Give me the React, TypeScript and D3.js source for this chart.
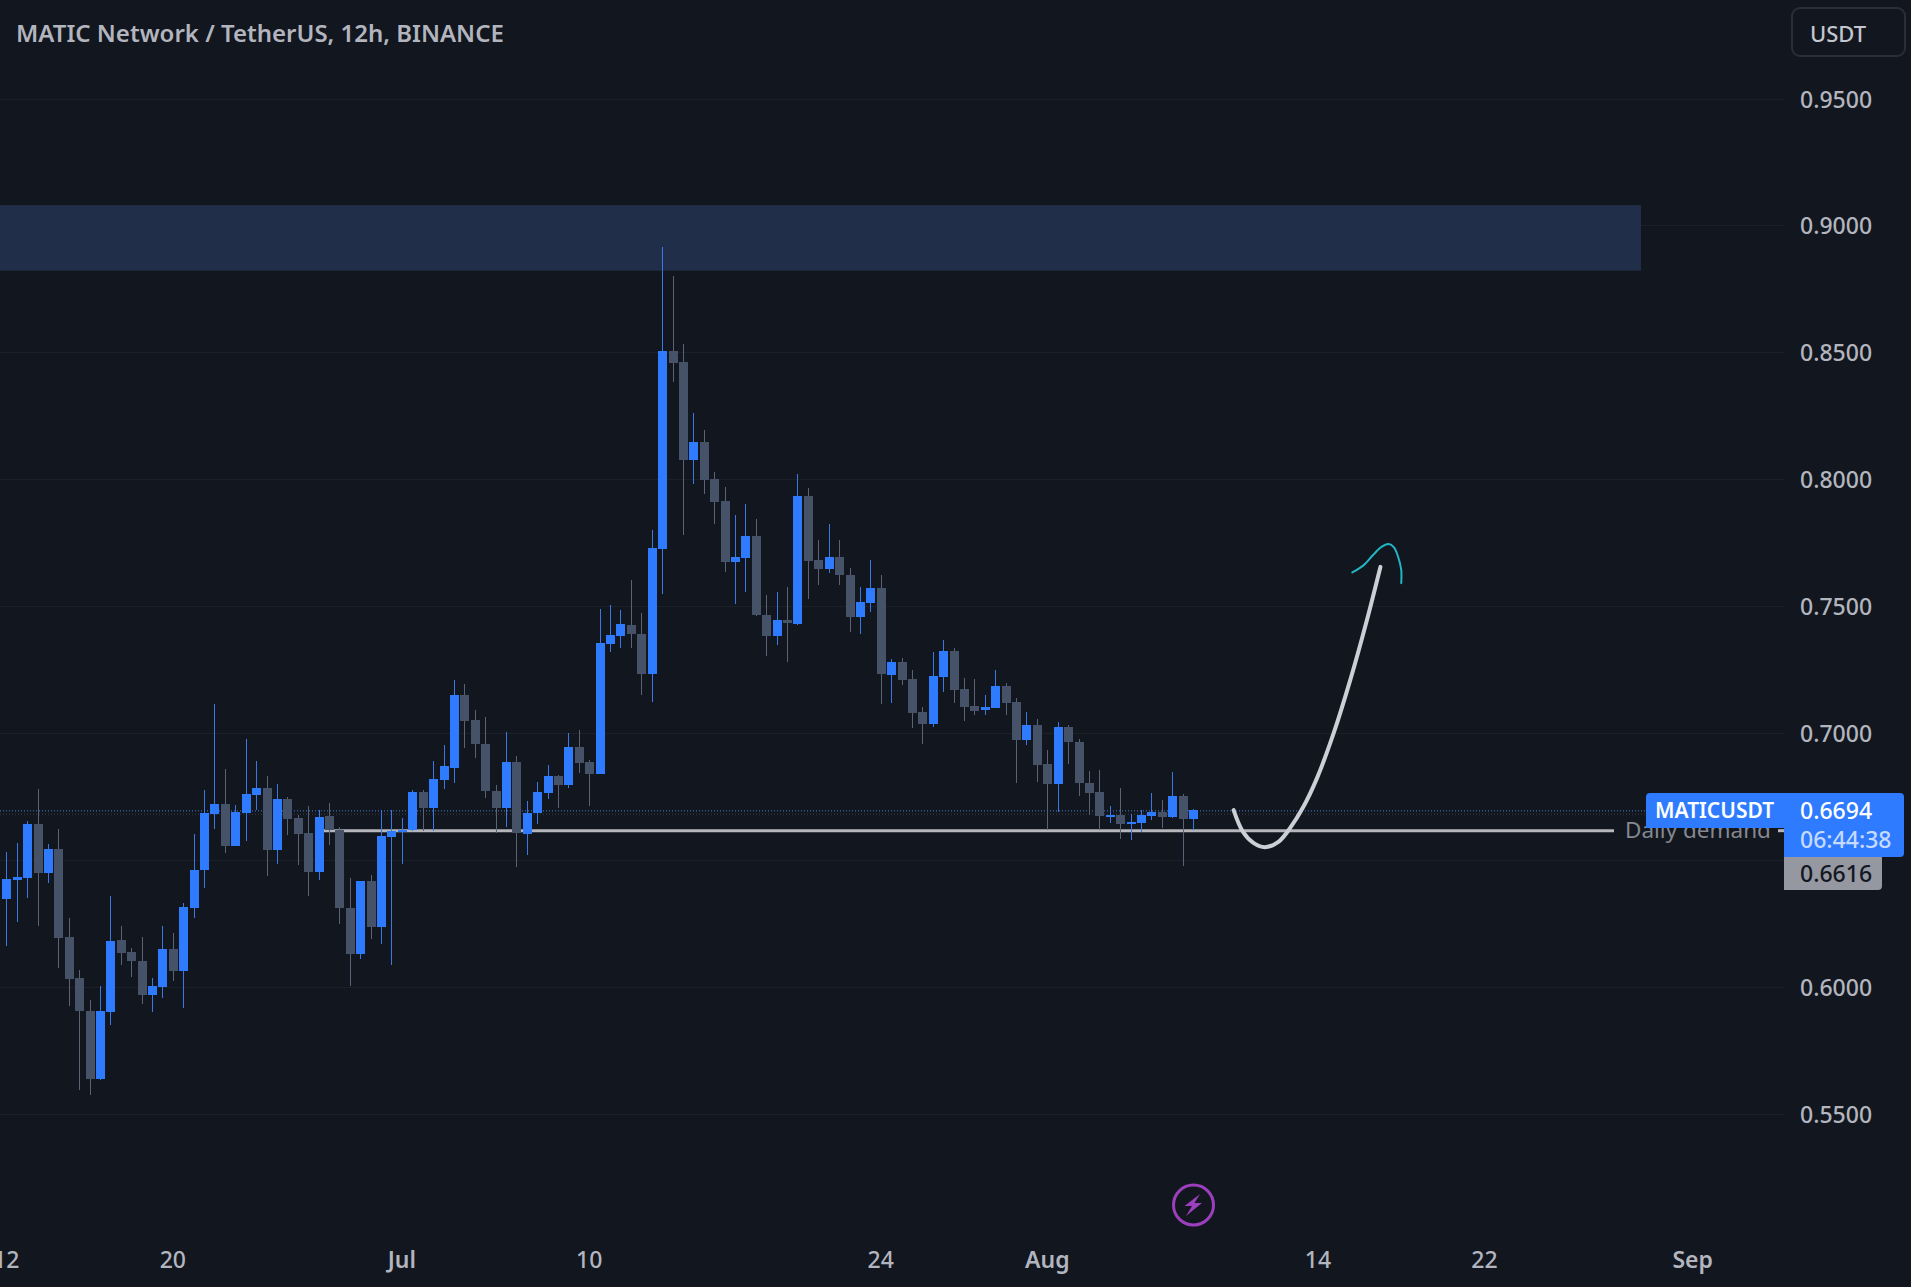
import React from 'react';
import * as d3 from 'd3';

const opens = [
  0.6346, 0.6421, 0.643, 0.6641, 0.645, 0.6543, 0.6196, 0.6037, 0.5907, 0.5637,
  0.5901, 0.6184, 0.6137, 0.6104, 0.5968, 0.6, 0.6149, 0.6062, 0.6312, 0.646,
  0.6682, 0.672, 0.6556, 0.6685, 0.6756, 0.6783, 0.654, 0.674, 0.6665, 0.6606,
  0.6452, 0.6673, 0.6618, 0.631, 0.6129, 0.6417, 0.6236, 0.659, 0.6614, 0.6618,
  0.6767, 0.6704, 0.6815, 0.6863, 0.715, 0.7051, 0.6957, 0.6771, 0.6704, 0.6886,
  0.6602, 0.6685, 0.6764, 0.6831, 0.6795, 0.6945, 0.6886, 0.6838, 0.7351, 0.7382,
  0.7428, 0.739, 0.7234, 0.7725, 0.8505, 0.8462, 0.8076, 0.8147, 0.8001, 0.7914,
  0.7674, 0.769, 0.7776, 0.7464, 0.7382, 0.7444, 0.7432, 0.7934, 0.7682, 0.7646,
  0.7694, 0.7623, 0.7458, 0.7514, 0.7571, 0.7228, 0.7282, 0.7213, 0.7083, 0.7035,
  0.7221, 0.7323, 0.7175, 0.7106, 0.7091, 0.7098, 0.7185, 0.7122, 0.6972, 0.7031,
  0.6878, 0.6799, 0.7024, 0.6964, 0.6803, 0.6767, 0.6673, 0.6677, 0.6643, 0.6645,
  0.6673, 0.6689, 0.6669, 0.6752, 0.6661,
];
const closes = [
  0.6425, 0.6433, 0.6641, 0.645, 0.6543, 0.6194, 0.6032, 0.5905, 0.5638, 0.5905,
  0.618, 0.6134, 0.6103, 0.5969, 0.6003, 0.6149, 0.6065, 0.6314, 0.6463, 0.6685,
  0.672, 0.6556, 0.6689, 0.676, 0.6783, 0.654, 0.674, 0.6662, 0.6602, 0.6452,
  0.6669, 0.6618, 0.631, 0.6129, 0.6417, 0.6236, 0.6594, 0.6614, 0.6618, 0.6768,
  0.6704, 0.6819, 0.687, 0.715, 0.7049, 0.6957, 0.6771, 0.6704, 0.6886, 0.6605,
  0.6685, 0.6767, 0.6831, 0.6795, 0.6945, 0.6883, 0.6838, 0.7355, 0.7386, 0.7429,
  0.739, 0.7234, 0.7729, 0.8505, 0.8458, 0.8076, 0.8147, 0.7997, 0.791, 0.7674,
  0.7694, 0.7776, 0.7464, 0.7382, 0.7445, 0.7435, 0.7934, 0.7679, 0.7646, 0.7694,
  0.7623, 0.7458, 0.7515, 0.757, 0.7235, 0.728, 0.7209, 0.7079, 0.7035, 0.7225,
  0.7323, 0.7171, 0.7104, 0.7087, 0.7102, 0.7185, 0.7118, 0.6972, 0.7031, 0.6874,
  0.6799, 0.7024, 0.6964, 0.6803, 0.6764, 0.6673, 0.6677, 0.6641, 0.6649, 0.6677,
  0.6689, 0.6669, 0.6752, 0.6661, 0.6697,
];
const highs = [
  0.6532, 0.6568, 0.6655, 0.6782, 0.6565, 0.6624, 0.6274, 0.6069, 0.5948, 0.6004,
  0.6358, 0.624, 0.6152, 0.6197, 0.6037, 0.624, 0.6211, 0.6331, 0.6602, 0.6778,
  0.7113, 0.6857, 0.6719, 0.6979, 0.6891, 0.6831, 0.6799, 0.6749, 0.6677, 0.6712,
  0.6697, 0.6725, 0.6631, 0.643, 0.6417, 0.644, 0.6699, 0.6699, 0.6664, 0.6778,
  0.6775, 0.689, 0.6955, 0.7209, 0.7192, 0.7091, 0.7062, 0.6795, 0.7004, 0.6909,
  0.6732, 0.6808, 0.6873, 0.6834, 0.7001, 0.7012, 0.6894, 0.7491, 0.7503, 0.7487,
  0.7603, 0.7472, 0.78, 0.8915, 0.8801, 0.8532, 0.8262, 0.8194, 0.8027, 0.7968,
  0.7859, 0.7902, 0.7843, 0.7544, 0.7558, 0.7577, 0.8021, 0.7964, 0.7761, 0.7824,
  0.7761, 0.7652, 0.7574, 0.7682, 0.7622, 0.7294, 0.7298, 0.7248, 0.7104, 0.7318,
  0.7366, 0.7335, 0.7219, 0.7214, 0.715, 0.7248, 0.7198, 0.7137, 0.7083, 0.7055,
  0.6933, 0.7043, 0.7031, 0.6979, 0.685, 0.6854, 0.6712, 0.6783, 0.6681, 0.6697,
  0.6765, 0.6736, 0.6848, 0.6762, 0.6703,
];
const lows = [
  0.6161, 0.6258, 0.6349, 0.6241, 0.6408, 0.6077, 0.5927, 0.5596, 0.5576, 0.5635,
  0.5851, 0.6086, 0.604, 0.5932, 0.5903, 0.5957, 0.6025, 0.5918, 0.6274, 0.6391,
  0.6624, 0.6528, 0.6555, 0.6574, 0.6697, 0.6437, 0.6485, 0.6598, 0.6481, 0.636,
  0.6423, 0.6561, 0.625, 0.6003, 0.6112, 0.6191, 0.617, 0.6086, 0.6485, 0.6614,
  0.6615, 0.6615, 0.6782, 0.6804, 0.6942, 0.6904, 0.6746, 0.6605, 0.6631, 0.6471,
  0.6519, 0.6641, 0.674, 0.6707, 0.6783, 0.6845, 0.6712, 0.6838, 0.7318, 0.7337,
  0.7335, 0.7152, 0.7121, 0.755, 0.8382, 0.778, 0.798, 0.7944, 0.7824, 0.7633,
  0.7508, 0.7558, 0.7462, 0.7305, 0.7347, 0.7279, 0.7426, 0.7528, 0.7582, 0.7631,
  0.7582, 0.7399, 0.7389, 0.7477, 0.7114, 0.7119, 0.7188, 0.7021, 0.6959, 0.7025,
  0.7163, 0.7117, 0.7047, 0.7071, 0.7073, 0.7098, 0.7071, 0.6803, 0.6953, 0.6807,
  0.662, 0.669, 0.6878, 0.6752, 0.6677, 0.662, 0.6648, 0.6582, 0.6578, 0.661,
  0.6657, 0.6626, 0.6664, 0.6476, 0.6618,
];

const priceTicks = [0.55, 0.6, 0.65, 0.7, 0.75, 0.8, 0.85, 0.9, 0.95];
const gridLabels = ['0.5500', '0.6000', null, '0.7000', '0.7500', '0.8000', '0.8500', '0.9000', '0.9500'];
const timeTickBars = [0, 16, 38, 56, 84, 100, 126, 142, 162];
const timeTickLabels = ['12', '20', 'Jul', '10', '24', 'Aug', '14', '22', 'Sep'];
const monthLabels = ['Jul', 'Aug', 'Sep'];

// hand drawn projection, [bar, price]
const whiteCurve: [number, number][] = [
  [117.9, 0.6697], [118.8, 0.6611], [119.8, 0.6568], [120.9, 0.6551], [122.2, 0.6572], [123.3, 0.6625],
  [124.6, 0.671], [125.9, 0.6822], [127.5, 0.6999], [129.1, 0.7209], [130.7, 0.7445], [132.0, 0.7655],
];
const tealCurve: [number, number][] = [
  [129.3, 0.7633], [130.4, 0.7662], [131.3, 0.7702], [132.1, 0.7734], [132.8, 0.7745],
  [133.3, 0.7732], [133.7, 0.7695], [134.0, 0.7643], [134.0, 0.7591],
];

const lastPrice = 0.6694;
const prevPrice = 0.6681;
const demandPrice = 0.6616;
const zoneTop = 0.908;
const zoneBottom = 0.8822;

const WIDTH = 1911;
const HEIGHT = 1287;
const AXIS_X = 1784;
const FONT = '"Noto Sans", "Open Sans", sans-serif';
const BLUE = '#2E7BFF';
const GRAY = '#465267';
const TEXT = '#B2B5BE';
const FONT_SIZE = 23;

const x = d3.scaleLinear().domain([0, 162]).range([6.3, 1692.7]);
const y = d3.scaleLinear().domain([0.55, 0.95]).range([1114, 98.5]);
const curve = d3
  .line<[number, number]>()
  .x(d => x(d[0]))
  .y(d => y(d[1]))
  .curve(d3.curveCatmullRom);

const App: React.FC = () => {
  return (
    <svg
      width={WIDTH}
      height={HEIGHT}
      viewBox={`0 0 ${WIDTH} ${HEIGHT}`}
      style={{ position: 'absolute', left: 0, top: 0, display: 'block' }}
      fontFamily={FONT}
    >
      <rect width={WIDTH} height={HEIGHT} fill="#12161F" />

      {/* grid */}
      {priceTicks.map(p => (
        <line key={p} x1={0} x2={AXIS_X} y1={Math.round(y(p)) + 0.5} y2={Math.round(y(p)) + 0.5} stroke="#1C2029" />
      ))}

      {/* supply zone */}
      <rect x={0} y={y(zoneTop)} width={1641} height={y(zoneBottom) - y(zoneTop)} fill="#21304C" opacity={0.93} />

      {/* price lines */}
      <line x1={0} x2={AXIS_X} y1={y(lastPrice)} y2={y(lastPrice)} stroke="#4F7FCC" strokeDasharray="1 2" />
      <line x1={0} x2={AXIS_X} y1={y(prevPrice)} y2={y(prevPrice)} stroke="#3A3F4B" strokeDasharray="1 2" />

      {/* demand line */}
      <line x1={x(30.4)} x2={1614} y1={y(demandPrice)} y2={y(demandPrice)} stroke="#B4B6BC" strokeWidth={3} />
      <text x={1625} y={y(demandPrice) - 1} dominantBaseline="central" fontSize={22.5} fill="#85888F">
        Daily demand
      </text>
      <line x1={1778} x2={1784} y1={y(demandPrice)} y2={y(demandPrice)} stroke="#B4B6BC" strokeWidth={3} />

      {/* candles */}
      <g shapeRendering="crispEdges">
        {opens.map((o, i) => {
          const up = closes[i] >= o;
          const cx = Math.round(x(i));
          const top = y(Math.max(o, closes[i]));
          const bottom = y(Math.min(o, closes[i]));
          return (
            <g key={i}>
              <line x1={cx + 0.5} x2={cx + 0.5} y1={y(highs[i])} y2={y(lows[i])} stroke={up ? '#3A78E6' : '#5A6374'} />
              <rect x={cx - 4} y={top} width={9} height={Math.max(bottom - top, 2)} fill={up ? BLUE : GRAY} />
            </g>
          );
        })}
      </g>

      {/* drawings */}
      <path d={curve(whiteCurve) ?? ''} fill="none" stroke="#CDCFD6" strokeWidth={4} strokeLinecap="round" />
      <path d={curve(tealCurve) ?? ''} fill="none" stroke="#22B5C4" strokeWidth={2} strokeLinecap="round" />

      {/* title */}
      <text x={16} y={32} dominantBaseline="central" fontSize={24} fontWeight={600} fill={TEXT}>
        MATIC Network / TetherUS, 12h, BINANCE
      </text>

      {/* currency button */}
      <rect x={1792} y={8} width={113} height={48} rx={8} fill="#12161F" stroke="#2A2E39" strokeWidth={2} />
      <text x={1838} y={33} textAnchor="middle" dominantBaseline="central" fontSize={22} fontWeight={500} fill="#C3C6CE">
        USDT
      </text>

      {/* price axis */}
      {priceTicks.map((p, i) =>
        gridLabels[i] ? (
          <text key={p} x={1800} y={y(p)} dominantBaseline="central" fontSize={FONT_SIZE} fontWeight={500} fill={TEXT}>
            {gridLabels[i]}
          </text>
        ) : null,
      )}

      {/* time axis */}
      {timeTickBars.map((b, i) => (
        <text
          key={b}
          x={x(b)}
          y={1259}
          textAnchor="middle"
          dominantBaseline="central"
          fontSize={FONT_SIZE}
          fontWeight={monthLabels.includes(timeTickLabels[i]) ? 600 : 500}
          fill={TEXT}
        >
          {timeTickLabels[i]}
        </text>
      ))}

      {/* demand price tag */}
      <path d="M1784 857H1882V886a4 4 0 0 1 -4 4H1784Z" fill="#9598A1" />
      <text x={1800} y={873} dominantBaseline="central" fontSize={FONT_SIZE} fontWeight={500} fill="#131722">
        {demandPrice.toFixed(4)}
      </text>

      {/* last price tag */}
      <path d="M1650 793H1900a4 4 0 0 1 4 4V853a4 4 0 0 1 -4 4H1784V828H1646V797a4 4 0 0 1 4 -4Z" fill={BLUE} />
      <text x={1655} y={810} dominantBaseline="central" fontSize={21} fontWeight={600} fill="#FFFFFF">
        MATICUSDT
      </text>
      <text x={1800} y={810} dominantBaseline="central" fontSize={FONT_SIZE} fontWeight={500} fill="#FFFFFF">
        {lastPrice.toFixed(4)}
      </text>
      <text x={1800} y={839} dominantBaseline="central" fontSize={FONT_SIZE} fontWeight={500} fill="#C6DAFF">
        06:44:38
      </text>

      {/* flash icon */}
      <circle cx={1193.5} cy={1205} r={20} fill="none" stroke="#9C3FBD" strokeWidth={3} />
      <path d="M1200 1194L1184.5 1206H1192L1186 1216L1202 1203H1194.5Z" fill="#9C3FBD" />
    </svg>
  );
};

export default App;
